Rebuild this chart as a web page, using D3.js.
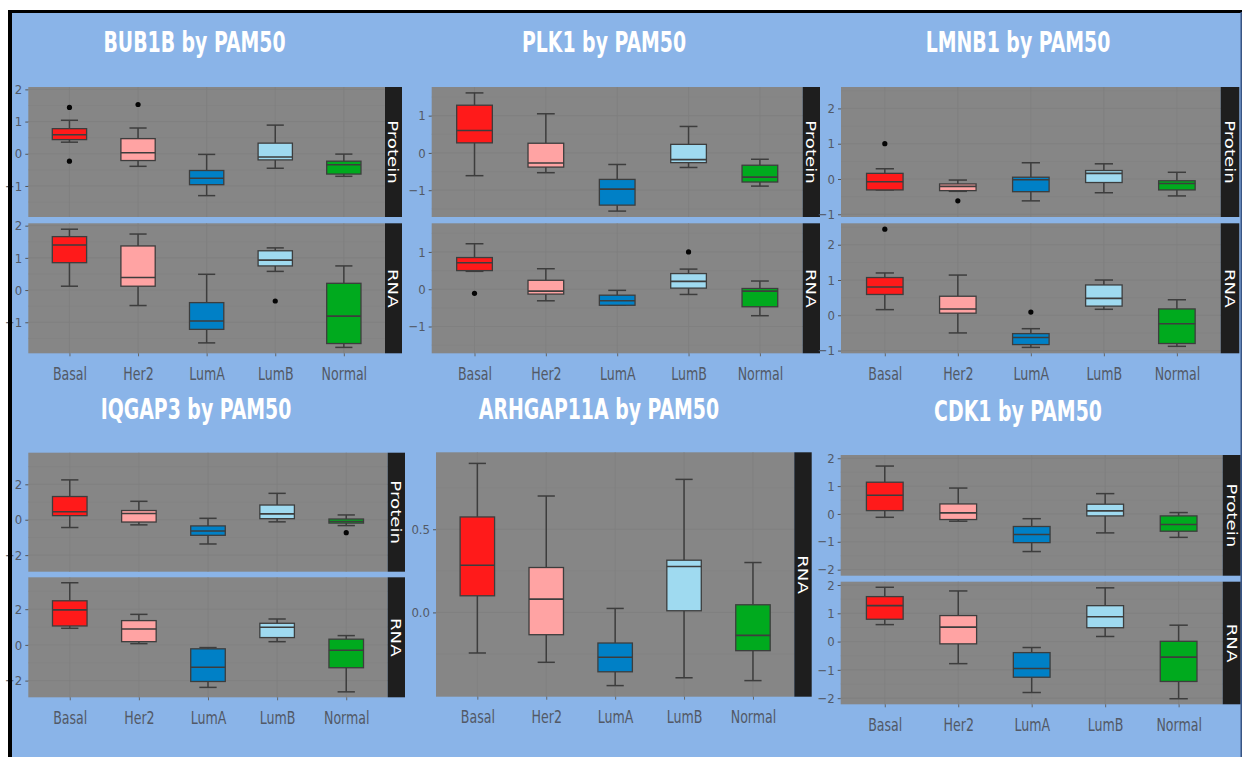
<!DOCTYPE html>
<html>
<head>
<meta charset="utf-8">
<script src="https://cdn.jsdelivr.net/npm/d3@7"></script>
<style>
  html, body { margin: 0; padding: 0; background: #fff; }
  svg { display: block; }
</style>
</head>
<body>
<svg id="chart" width="1242" height="757"></svg>
<script>
// PAM50 subtypes and their fill colours
const categories = ["Basal", "Her2", "LumA", "LumB", "Normal"];
const fillColors = ["#ff1a1a", "#ffa3a3", "#0080c6", "#9fdaf0", "#00aa1e"];

// Box statistics per subtype: [lower whisker, Q1, median, Q3, upper whisker]
const bub1bProtein = [[0.36,0.44,0.59,0.78,1.04],[-0.39,-0.21,0.03,0.47,0.80],[-1.30,-0.96,-0.76,-0.52,-0.02],[-0.45,-0.19,-0.10,0.33,0.89],[-0.70,-0.63,-0.34,-0.23,-0.01]];
const bub1bProteinOut = [[1.44,-0.23],[1.53],[],[],[]];
const bub1bRna = [[0.12,0.85,1.40,1.66,1.89],[-0.48,0.12,0.39,1.37,1.74],[-1.64,-1.22,-0.96,-0.39,0.49],[0.58,0.75,0.93,1.22,1.31],[-1.78,-1.66,-0.81,0.21,0.75]];
const bub1bRnaOut = [[],[],[],[-0.34],[]];
const bub1bTicks = [-1, 0, 1, 2];

const plk1Protein = [[-0.61,0.27,0.60,1.28,1.61],[-0.53,-0.38,-0.27,0.26,1.05],[-1.56,-1.40,-0.97,-0.71,-0.31],[-0.39,-0.26,-0.18,0.23,0.71],[-0.89,-0.78,-0.65,-0.33,-0.17]];
const plk1ProteinOut = [[],[],[],[],[]];
const plk1Rna = [[0.48,0.50,0.71,0.85,1.22],[-0.31,-0.13,-0.05,0.24,0.55],[-0.43,-0.43,-0.31,-0.16,-0.03],[-0.14,0.03,0.21,0.42,0.54],[-0.71,-0.47,-0.05,0.02,0.22]];
const plk1RnaOut = [[-0.11],[],[],[1.00],[]];
const plk1Ticks = [-1, 0, 1];

const lmnb1Protein = [[-0.31,-0.31,-0.08,0.16,0.29],[-0.35,-0.33,-0.21,-0.14,-0.03],[-0.62,-0.36,-0.02,0.05,0.46],[-0.39,-0.10,0.16,0.24,0.43],[-0.48,-0.31,-0.13,-0.05,0.19]];
const lmnb1ProteinOut = [[1.00],[-0.62],[],[],[]];
const lmnb1Rna = [[0.16,0.59,0.80,1.07,1.20],[-0.50,0.06,0.18,0.54,1.14],[-0.91,-0.83,-0.63,-0.52,-0.38],[0.17,0.26,0.48,0.86,1.00],[-0.88,-0.80,-0.24,0.18,0.44]];
const lmnb1RnaOut = [[2.44],[],[0.09],[],[]];
const lmnb1Ticks = [-1, 0, 1, 2];

const iqgap3Protein = [[-0.44,0.23,0.45,1.31,2.25],[-0.29,-0.13,0.35,0.52,1.04],[-1.37,-0.88,-0.64,-0.35,0.08],[-0.12,0.06,0.33,0.83,1.49],[-0.33,-0.19,-0.10,0.04,0.27]];
const iqgap3ProteinOut = [[],[],[],[],[-0.73]];
const iqgap3Rna = [[0.93,1.06,1.96,2.47,3.48],[0.07,0.18,0.89,1.36,1.71],[-2.38,-2.05,-1.25,-0.22,-0.15],[0.18,0.41,0.99,1.21,1.45],[-2.63,-1.28,-0.30,0.32,0.52]];
const iqgap3RnaOut = [[],[],[],[],[]];
const iqgap3Ticks = [-2, 0, 2];

const arhgap11aRna = [[-0.244,0.100,0.284,0.574,0.896],[-0.300,-0.134,0.080,0.270,0.700],[-0.440,-0.357,-0.270,-0.184,0.024],[-0.393,0.010,0.276,0.314,0.800],[-0.410,-0.230,-0.138,0.046,0.300]];
const arhgap11aRnaOut = [[],[],[],[],[]];
const arhgap11aTicks = [0, 0.5];

const cdk1Protein = [[-0.12,0.12,0.67,1.14,1.72],[-0.26,-0.20,0.04,0.36,0.93],[-1.35,-1.03,-0.74,-0.45,-0.17],[-0.68,-0.07,0.11,0.35,0.73],[-0.84,-0.62,-0.38,-0.07,0.05]];
const cdk1ProteinOut = [[],[],[],[],[]];
const cdk1Rna = [[0.60,0.79,1.27,1.59,1.92],[-0.78,-0.08,0.51,0.92,1.79],[-1.80,-1.26,-0.95,-0.39,-0.21],[0.18,0.49,0.88,1.27,1.90],[-2.02,-1.41,-0.55,0.01,0.58]];
const cdk1RnaOut = [[],[],[],[],[]];
const cdk1Ticks = [-2, -1, 0, 1, 2];

// Panel layout (page coordinates)
const panels = [
  { title: "BUB1B by PAM50", tx: 194.5, ty: 52, x0: 28.3, x1: 385, sw: 17, ticks: bub1bTicks, fmt: d3.format("d"),
    facets: [{ name: "Protein", y0: 87, y1: 217, stats: bub1bProtein, out: bub1bProteinOut },
             { name: "RNA", y0: 223.3, y1: 353.3, stats: bub1bRna, out: bub1bRnaOut }] },
  { title: "PLK1 by PAM50", tx: 604, ty: 52, x0: 431.7, x1: 802.7, sw: 17.3, ticks: plk1Ticks, fmt: d3.format("d"),
    facets: [{ name: "Protein", y0: 87, y1: 217, stats: plk1Protein, out: plk1ProteinOut },
             { name: "RNA", y0: 223.3, y1: 353.3, stats: plk1Rna, out: plk1RnaOut }] },
  { title: "LMNB1 by PAM50", tx: 1018, ty: 52, x0: 841, x1: 1220.7, sw: 18.6, ticks: lmnb1Ticks, fmt: d3.format("d"),
    facets: [{ name: "Protein", y0: 87, y1: 217, stats: lmnb1Protein, out: lmnb1ProteinOut },
             { name: "RNA", y0: 223.3, y1: 353.3, stats: lmnb1Rna, out: lmnb1RnaOut }] },
  { title: "IQGAP3 by PAM50", tx: 196, ty: 419, x0: 28.3, x1: 387.7, sw: 17.3, ticks: iqgap3Ticks, fmt: d3.format("d"),
    facets: [{ name: "Protein", y0: 452.7, y1: 571.7, stats: iqgap3Protein, out: iqgap3ProteinOut },
             { name: "RNA", y0: 577.3, y1: 697.3, stats: iqgap3Rna, out: iqgap3RnaOut }] },
  { title: "ARHGAP11A by PAM50", tx: 599, ty: 419, x0: 436, x1: 794.3, sw: 17.4, ticks: arhgap11aTicks, fmt: d3.format(".1f"),
    facets: [{ name: "RNA", y0: 452.3, y1: 696.7, stats: arhgap11aRna, out: arhgap11aRnaOut }] },
  { title: "CDK1 by PAM50", tx: 1018, ty: 420.5, x0: 840.7, x1: 1222.7, sw: 18, ticks: cdk1Ticks, fmt: d3.format("d"),
    facets: [{ name: "Protein", y0: 455, y1: 575.7, stats: cdk1Protein, out: cdk1ProteinOut },
             { name: "RNA", y0: 581.7, y1: 704.3, stats: cdk1Rna, out: cdk1RnaOut }] }
];

const svg = d3.select("#chart");
svg.append("rect").attr("width", 1242).attr("height", 757).attr("fill", "#ffffff");
svg.append("rect").attr("x", 10).attr("y", 11).attr("width", 1232).attr("height", 746).attr("fill", "#8ab4e8");

const tickFont = "'DejaVu Sans Condensed', 'DejaVu Sans', sans-serif";
const stretch = 1.3;

panels.forEach(p => {
  // shared y domain across the facets of one gene, with 5% expansion
  const all = [];
  p.facets.forEach(f => { f.stats.forEach(s => all.push(...s)); f.out.forEach(o => all.push(...o)); });
  const lo = d3.min(all), hi = d3.max(all), pad = (hi - lo) * 0.05;
  const domain = [lo - pad, hi + pad];

  const x = d3.scalePoint().domain(categories).range([p.x0, p.x1]).padding(0.6);
  const step = x.step();

  // title
  svg.append("text")
    .attr("transform", `translate(${p.tx},${p.ty}) scale(1,1.33)`)
    .attr("text-anchor", "middle")
    .attr("fill", "#ffffff")
    .style("font-family", tickFont)
    .style("font-weight", "bold")
    .style("font-size", "21px")
    .text(p.title);

  p.facets.forEach((f, fi) => {
    const y = d3.scaleLinear().domain(domain).range([f.y1, f.y0]);
    const g = svg.append("g");

    // panel background
    g.append("rect").attr("x", p.x0).attr("y", f.y0)
      .attr("width", p.x1 - p.x0).attr("height", f.y1 - f.y0).attr("fill", "#868686");

    // faint grid lines: minor y, major y, major x
    const tk = p.ticks;
    const st = tk[1] - tk[0];
    const minor = d3.range(tk[0] - st / 2, tk[tk.length - 1] + st, st).filter(v => v > domain[0] && v < domain[1]);
    g.selectAll(".minor").data(minor).join("line")
      .attr("x1", p.x0).attr("x2", p.x1).attr("y1", d => y(d)).attr("y2", d => y(d))
      .attr("stroke", "#818181").attr("stroke-width", 0.5);
    const major = tk.filter(v => v >= domain[0] && v <= domain[1]);
    g.selectAll(".major").data(major).join("line")
      .attr("x1", p.x0).attr("x2", p.x1).attr("y1", d => y(d)).attr("y2", d => y(d))
      .attr("stroke", "#7f7f7f").attr("stroke-width", 0.8);
    g.selectAll(".vgrid").data(categories).join("line")
      .attr("x1", d => x(d)).attr("x2", d => x(d)).attr("y1", f.y0).attr("y2", f.y1)
      .attr("stroke", "#7f7f7f").attr("stroke-width", 0.8);

    // boxplots
    const boxW = step * 0.5, capW = step * 0.25;
    categories.forEach((c, i) => {
      const s = f.stats[i];
      const cx = x(c);
      const bg = g.append("g");
      bg.append("line").attr("x1", cx).attr("x2", cx).attr("y1", y(s[4])).attr("y2", y(s[3]))
        .attr("stroke", "#3d3d3d").attr("stroke-width", 1.5);
      bg.append("line").attr("x1", cx).attr("x2", cx).attr("y1", y(s[1])).attr("y2", y(s[0]))
        .attr("stroke", "#3d3d3d").attr("stroke-width", 1.5);
      [s[0], s[4]].forEach(v => {
        bg.append("line").attr("x1", cx - capW / 2).attr("x2", cx + capW / 2).attr("y1", y(v)).attr("y2", y(v))
          .attr("stroke", "#3d3d3d").attr("stroke-width", 1.5);
      });
      bg.append("rect").attr("x", cx - boxW / 2).attr("y", y(s[3]))
        .attr("width", boxW).attr("height", Math.max(0.5, y(s[1]) - y(s[3])))
        .attr("fill", fillColors[i]).attr("stroke", "#3d3d3d").attr("stroke-width", 1.3);
      bg.append("line").attr("x1", cx - boxW / 2).attr("x2", cx + boxW / 2).attr("y1", y(s[2])).attr("y2", y(s[2]))
        .attr("stroke", "#3d3d3d").attr("stroke-width", 1.6);
      bg.selectAll("circle").data(f.out[i]).join("circle")
        .attr("cx", cx).attr("cy", d => y(d)).attr("r", 2.6).attr("fill", "#050505");
    });

    // y axis
    const ya = g.append("g").attr("transform", `translate(${p.x0},0)`)
      .call(d3.axisLeft(y).tickValues(major).tickFormat(p.fmt).tickSize(3).tickPadding(3));
    ya.select(".domain").remove();
    ya.selectAll("line").attr("stroke", "#555555");
    ya.selectAll("text")
      .attr("fill", "#525966").style("font-family", tickFont).style("font-size", "13px");

    // facet strip
    const sx = p.x1, sw = p.sw;
    g.append("rect").attr("x", sx).attr("y", f.y0).attr("width", sw).attr("height", f.y1 - f.y0).attr("fill", "#1e1e1e");
    g.append("text")
      .attr("transform", `translate(${sx + sw / 2},${(f.y0 + f.y1) / 2}) rotate(90) scale(${stretch},1)`)
      .attr("text-anchor", "middle").attr("dy", "0.36em")
      .attr("fill", "#ffffff").style("font-family", "'DejaVu Sans', sans-serif").style("font-size", "14px")
      .text(f.name);

    // x axis under the last facet
    if (fi === p.facets.length - 1) {
      const xa = g.append("g").attr("transform", `translate(0,${f.y1})`)
        .call(d3.axisBottom(x).tickSize(3).tickPadding(7.5));
      xa.select(".domain").remove();
      xa.selectAll("line").attr("stroke", "#666666");
      xa.selectAll("text").attr("transform", `scale(1,${stretch})`)
        .attr("fill", "#525966").style("font-family", tickFont).style("font-size", "14px");
    }
  });
});

// outer frame
svg.append("rect").attr("x", 8).attr("y", 10).attr("width", 1234).attr("height", 3).attr("fill", "#000");
svg.append("rect").attr("x", 8).attr("y", 10).attr("width", 4).attr("height", 747).attr("fill", "#000");
svg.append("rect").attr("x", 1240.5).attr("y", 12).attr("width", 1.5).attr("height", 745).attr("fill", "#3a5584");
</script>
</body>
</html>
